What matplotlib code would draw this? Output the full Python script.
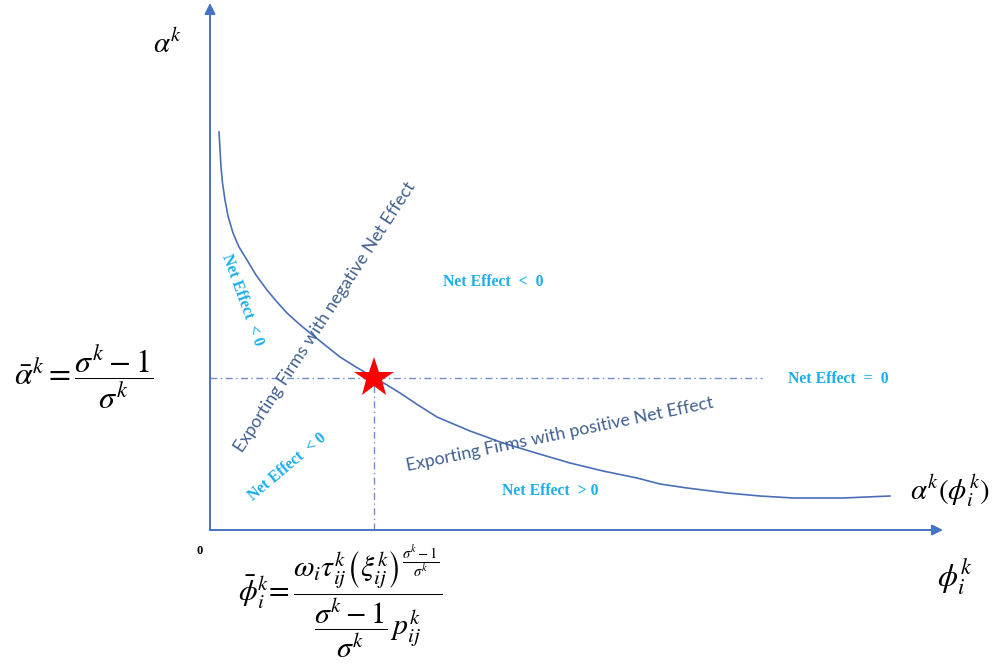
import matplotlib.pyplot as plt

plt.rcParams['mathtext.fontset'] = 'stix'

# curve alpha^k(phi_i^k) (origin at the axes corner)
curve_x = [9, 9.6, 10.3, 11, 12.5, 15, 18, 23, 29, 37, 46, 57, 67, 77, 88, 100, 115, 130, 146, 163,
           177, 190, 208, 227, 260, 293, 326, 360, 393, 427, 450, 477, 517, 550, 583, 633, 680]
curve_y = [398, 388, 375, 363, 347, 330, 314, 297, 283, 270, 255, 240, 228, 217, 207, 197, 185, 173, 163, 153,
           145, 137, 125, 113, 99, 87, 77, 67, 59, 52, 46, 42, 37, 34, 32, 32, 34]

# threshold point (phi bar, alpha bar)
phi_bar = 164
alpha_bar = 152
line_end = 552

axis_col = '#4472C4'
curve_col = '#4A6FB8'
blue_txt = '#1AAEEA'
dark_txt = '#41608E'

fig = plt.figure(figsize=(9.97, 6.72), dpi=100)
ax = fig.add_axes([0, 0, 1, 1])
ax.set_xlim(-210, 787)
ax.set_ylim(-142, 530)
ax.axis('off')

# axes with arrows
ax.annotate('', xy=(0, 527), xytext=(0, 0),
            arrowprops=dict(arrowstyle='-|>', color=axis_col, lw=1.4, mutation_scale=16, shrinkA=0, shrinkB=0))
ax.annotate('', xy=(733, 0), xytext=(0, 0),
            arrowprops=dict(arrowstyle='-|>', color=axis_col, lw=1.4, mutation_scale=16, shrinkA=0, shrinkB=0))

# dash-dot guides
ax.plot([0, line_end], [alpha_bar, alpha_bar], color='#6F8FCC', lw=1.0, ls=(0, (5, 2.5, 1, 2.5)))
ax.plot([phi_bar, phi_bar], [0, alpha_bar], color='#6F8FCC', lw=1.0, ls=(0, (5, 2.5, 1, 2.5)))

# curve
ax.plot(curve_x, curve_y, color=curve_col, lw=1.2)

# star
ax.plot([phi_bar], [alpha_bar], marker='*', color='#FF0000', markersize=30, markeredgewidth=0)

# math labels
ax.text(-42, 486, r'$\alpha^k$', fontsize=21, ha='center', va='center')
ax.text(-126, 152, r'$\bar{\alpha}^k = \dfrac{\sigma^k - 1}{\sigma^k}$', fontsize=23, ha='center', va='center')
ax.text(-10, -21, '0', fontsize=9, fontweight='bold', family='Liberation Serif', ha='center', va='center')
ax.text(130, -72,
        r'$\bar{\phi}_i^k\!=\dfrac{\omega_i\tau_{ij}^k\left(\xi_{ij}^k\right)^{\frac{\sigma^k-1}{\sigma^k}}}{\dfrac{\sigma^k-1}{\sigma^k}\,p_{ij}^k}$',
        fontsize=21.5, ha='center', va='center')
ax.text(745, -48, r'$\phi_i^k$', fontsize=23, ha='center', va='center')
ax.text(740, 39, r'$\alpha^k(\phi_i^k)$', fontsize=21, ha='center', va='center')

# net effect labels
kw = dict(fontsize=11.3, fontweight='bold', family='Liberation Serif', color=blue_txt,
          ha='center', va='center', rotation_mode='anchor')
ax.text(283, 248, 'Net Effect  <  0', **kw)
ax.text(628, 151, 'Net Effect  =  0', **kw)
ax.text(340, 39, 'Net Effect  > 0', **kw)
ax.text(32, 230, 'Net Effect  < 0', rotation=-70, **kw)
ax.text(77, 63, 'Net Effect  < 0', rotation=40, **kw)

# region descriptions
kw2 = dict(fontsize=12.8, family='Lato', color=dark_txt, ha='center', va='center', rotation_mode='anchor')
ax.text(115, 213, 'Exporting Firms with negative Net Effect', rotation=57, **kw2)
ax.text(350, 96, 'Exporting Firms with positive Net Effect', rotation=11.7, **kw2)

fig.savefig('out.png', dpi=100)
